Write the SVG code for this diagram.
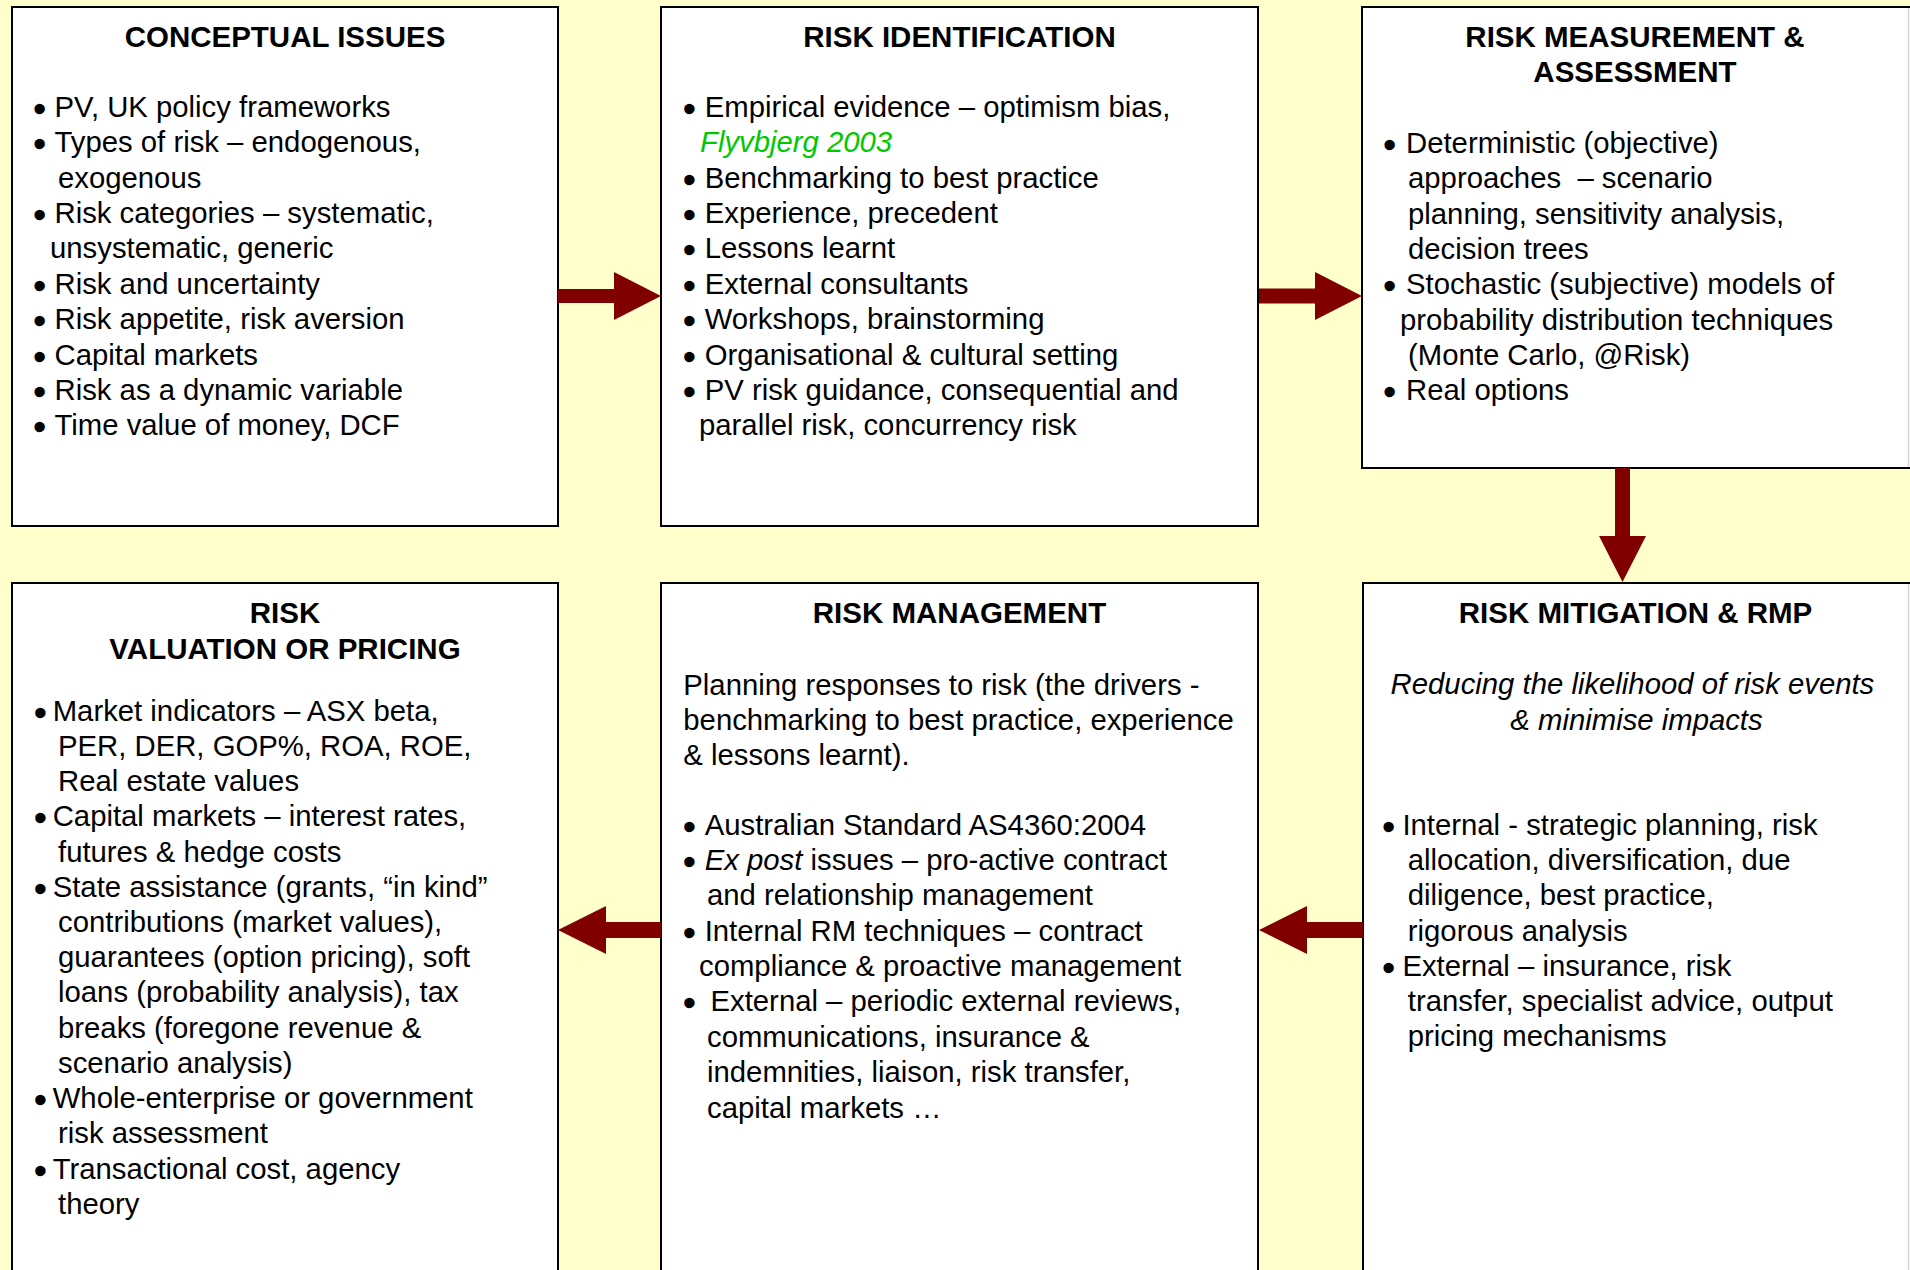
<svg xmlns="http://www.w3.org/2000/svg" width="1910" height="1270" viewBox="0 0 1910 1270">
  <style>
    .box { fill: #ffffff; stroke: #000000; stroke-width: 2; }
    .edge { stroke: #d6d6d6; stroke-width: 1.5; }
    .title { font-family: "Liberation Sans", Arial, sans-serif; font-size: 29.5px; font-weight: bold; fill: #000; text-anchor: middle; }
    .body { font-family: "Liberation Sans", Arial, sans-serif; font-size: 29.3px; fill: #000; }
    .bul { stroke: #000; stroke-width: 2.4; stroke-linejoin: round; }
    .ref { fill: #00c800; font-style: italic; }
    .it { font-style: italic; }
    .ctr { text-anchor: middle; }
    .arrow { fill: #800000; }
  </style>

  <rect x="0" y="0" width="1910" height="1270" fill="#ffffcc"/>

  <!-- Top row -->
  <g id="conceptual-issues">
    <rect class="box" x="12" y="7" width="546" height="519"/>
    <text class="title" x="285" y="47">CONCEPTUAL ISSUES</text>
    <text class="body">
      <tspan class="bul" x="34.4" y="119">•</tspan><tspan x="54.5" y="117">PV, UK policy frameworks</tspan>
      <tspan class="bul" x="34.4" y="154.4">•</tspan><tspan x="54.5" y="152.4">Types of risk – endogenous,</tspan>
      <tspan x="58" y="187.7">exogenous</tspan>
      <tspan class="bul" x="34.4" y="225.1">•</tspan><tspan x="54.5" y="223.1">Risk categories – systematic,</tspan>
      <tspan x="50" y="258.4">unsystematic, generic</tspan>
      <tspan class="bul" x="34.4" y="295.8">•</tspan><tspan x="54.5" y="293.8">Risk and uncertainty</tspan>
      <tspan class="bul" x="34.4" y="331.2">•</tspan><tspan x="54.5" y="329.2">Risk appetite, risk aversion</tspan>
      <tspan class="bul" x="34.4" y="366.5">•</tspan><tspan x="54.5" y="364.5">Capital markets</tspan>
      <tspan class="bul" x="34.4" y="401.9">•</tspan><tspan x="54.5" y="399.9">Risk as a dynamic variable</tspan>
      <tspan class="bul" x="34.4" y="437.2">•</tspan><tspan x="54.5" y="435.2">Time value of money, DCF</tspan>
    </text>
  </g>

  <g id="risk-identification">
    <rect class="box" x="661" y="7" width="597" height="519"/>
    <text class="title" x="959.5" y="47">RISK IDENTIFICATION</text>
    <text class="body">
      <tspan class="bul" x="684.2" y="119">•</tspan><tspan x="704.7" y="117">Empirical evidence – optimism bias,</tspan>
      <tspan x="700" y="152.4" class="ref">Flyvbjerg 2003</tspan>
      <tspan class="bul" x="684.2" y="189.7">•</tspan><tspan x="704.7" y="187.7">Benchmarking to best practice</tspan>
      <tspan class="bul" x="684.2" y="225.1">•</tspan><tspan x="704.7" y="223.1">Experience, precedent</tspan>
      <tspan class="bul" x="684.2" y="260.4">•</tspan><tspan x="704.7" y="258.4">Lessons learnt</tspan>
      <tspan class="bul" x="684.2" y="295.8">•</tspan><tspan x="704.7" y="293.8">External consultants</tspan>
      <tspan class="bul" x="684.2" y="331.2">•</tspan><tspan x="704.7" y="329.2">Workshops, brainstorming</tspan>
      <tspan class="bul" x="684.2" y="366.5">•</tspan><tspan x="704.7" y="364.5">Organisational &amp; cultural setting</tspan>
      <tspan class="bul" x="684.2" y="401.9">•</tspan><tspan x="704.7" y="399.9">PV risk guidance, consequential and</tspan>
      <tspan x="699" y="435.2">parallel risk, concurrency risk</tspan>
    </text>
  </g>

  <g id="risk-measurement">
    <rect class="box" x="1362" y="7" width="570" height="461"/>
    <line class="edge" x1="1908.5" y1="8" x2="1908.5" y2="467"/>
    <text class="title" x="1635" y="47">RISK MEASUREMENT &amp;</text>
    <text class="title" x="1635" y="82">ASSESSMENT</text>
    <text class="body" xml:space="preserve"><tspan class="bul" x="1384.6" y="155">•</tspan><tspan x="1406" y="153">Deterministic (objective)</tspan><tspan x="1408" y="188.3">approaches  – scenario</tspan><tspan x="1408" y="223.6">planning, sensitivity analysis,</tspan><tspan x="1408" y="258.9">decision trees</tspan><tspan class="bul" x="1384.6" y="296.2">•</tspan><tspan x="1406" y="294.2">Stochastic (subjective) models of</tspan><tspan x="1400" y="329.5">probability distribution techniques</tspan><tspan x="1408" y="364.8">(Monte Carlo, @Risk)</tspan><tspan class="bul" x="1384.6" y="402">•</tspan><tspan x="1406" y="400">Real options</tspan></text>
  </g>

  <!-- Bottom row -->
  <g id="risk-valuation">
    <rect class="box" x="12" y="583" width="546" height="720"/>
    <text class="title" x="285" y="623">RISK</text>
    <text class="title" x="285" y="658.6">VALUATION OR PRICING</text>
    <text class="body">
      <tspan class="bul" x="35.3" y="722.6">•</tspan><tspan x="52.7" y="720.6">Market indicators – ASX beta,</tspan>
      <tspan x="58" y="755.8">PER, DER, GOP%, ROA, ROE,</tspan>
      <tspan x="58" y="791.1">Real estate values</tspan>
      <tspan class="bul" x="35.3" y="828.3">•</tspan><tspan x="52.7" y="826.3">Capital markets – interest rates,</tspan>
      <tspan x="58" y="861.5">futures &amp; hedge costs</tspan>
      <tspan class="bul" x="35.3" y="898.8">•</tspan><tspan x="52.7" y="896.8">State assistance (grants, “in kind”</tspan>
      <tspan x="58" y="932">contributions (market values),</tspan>
      <tspan x="58" y="967.2">guarantees (option pricing), soft</tspan>
      <tspan x="58" y="1002.4">loans (probability analysis), tax</tspan>
      <tspan x="58" y="1037.7">breaks (foregone revenue &amp;</tspan>
      <tspan x="58" y="1072.9">scenario analysis)</tspan>
      <tspan class="bul" x="35.3" y="1110.1">•</tspan><tspan x="52.7" y="1108.1">Whole-enterprise or government</tspan>
      <tspan x="58" y="1143.4">risk assessment</tspan>
      <tspan class="bul" x="35.3" y="1180.6">•</tspan><tspan x="52.7" y="1178.6">Transactional cost, agency</tspan>
      <tspan x="58" y="1213.8">theory</tspan>
    </text>
  </g>

  <g id="risk-management">
    <rect class="box" x="661" y="583" width="597" height="720"/>
    <text class="title" x="959.5" y="623">RISK MANAGEMENT</text>
    <text class="body">
      <tspan x="683.3" y="694.8">Planning responses to risk (the drivers -</tspan>
      <tspan x="683.3" y="729.9">benchmarking to best practice, experience</tspan>
      <tspan x="683.3" y="765">&amp; lessons learnt).</tspan>
      <tspan class="bul" x="684.2" y="836.7">•</tspan><tspan x="704.7" y="834.7">Australian Standard AS4360:2004</tspan>
      <tspan class="bul" x="684.2" y="872">•</tspan><tspan x="704.7" y="870" class="it">Ex post</tspan><tspan> issues – pro-active contract</tspan>
      <tspan x="707" y="905.4">and relationship management</tspan>
      <tspan class="bul" x="684.2" y="942.7">•</tspan><tspan x="704.7" y="940.7">Internal RM techniques – contract</tspan>
      <tspan x="699" y="976.1">compliance &amp; proactive management</tspan>
      <tspan class="bul" x="684.2" y="1013.4">•</tspan><tspan x="710.5" y="1011.4">External – periodic external reviews,</tspan>
      <tspan x="707" y="1046.8">communications, insurance &amp;</tspan>
      <tspan x="707" y="1082.1">indemnities, liaison, risk transfer,</tspan>
      <tspan x="707" y="1117.5">capital markets …</tspan>
    </text>
  </g>

  <g id="risk-mitigation">
    <rect class="box" x="1363" y="583" width="570" height="720"/>
    <line class="edge" x1="1908.5" y1="584" x2="1908.5" y2="1270"/>
    <text class="title" x="1635.5" y="623">RISK MITIGATION &amp; RMP</text>
    <text class="body it ctr">
      <tspan x="1636.5" y="694.4">Reducing the likelihood of risk events</tspan>
      <tspan x="1636.5" y="729.7">&amp; minimise impacts</tspan>
    </text>
    <text class="body">
      <tspan class="bul" x="1383.4" y="836.7">•</tspan><tspan x="1402.4" y="834.7">Internal - strategic planning, risk</tspan>
      <tspan x="1407.8" y="870">allocation, diversification, due</tspan>
      <tspan x="1407.8" y="905.3">diligence, best practice,</tspan>
      <tspan x="1407.8" y="940.6">rigorous analysis</tspan>
      <tspan class="bul" x="1383.4" y="977.9">•</tspan><tspan x="1402.4" y="975.9">External – insurance, risk</tspan>
      <tspan x="1407.8" y="1011.2">transfer, specialist advice, output</tspan>
      <tspan x="1407.8" y="1046.4">pricing mechanisms</tspan>
    </text>
  </g>

  <!-- Block arrows between stages -->
  <g id="connectors">
    <polygon class="arrow" points="558,289 614,289 614,272 661,296 614,320 614,303 558,303"/>
    <polygon class="arrow" points="1259,288.5 1315,288.5 1315,272 1362,296 1315,320 1315,303.5 1259,303.5"/>
    <polygon class="arrow" points="1615,468 1630,468 1630,536 1646,536 1622.5,582 1599,536 1615,536"/>
    <polygon class="arrow" points="1363,922 1307,922 1307,906 1259,930 1307,954 1307,938 1363,938"/>
    <polygon class="arrow" points="661,922 606,922 606,906 558,930 606,954 606,938 661,938"/>
  </g>
</svg>
